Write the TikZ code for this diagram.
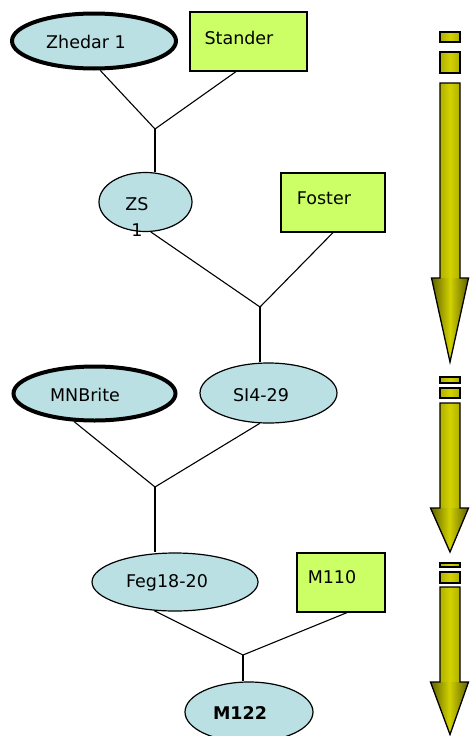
\documentclass[tikz,border=0pt]{standalone}
\usepackage{fontspec}
\setmainfont{DejaVu Sans}
\usetikzlibrary{shapes.geometric}
\definecolor{ellfill}{HTML}{BAE0E3}
\definecolor{boxfill}{HTML}{CCFF66}
\definecolor{arrmid}{HTML}{D2D200}
\definecolor{arredge}{HTML}{B0B000}
\definecolor{headedge}{HTML}{606000}
\begin{document}
\begin{tikzpicture}[x=1pt,y=-1pt,
  cross/.style={ellipse,draw,fill=ellfill,line width=1.2pt,inner sep=0pt},
  parent/.style={cross,line width=4pt},
  boxnode/.style={rectangle,draw,fill=boxfill,line width=1.2pt,inner sep=0pt},
  lbl/.style={font=\fontsize{17.5}{20}\selectfont,inner sep=0pt},
  link/.style={line width=1.1pt},
  shaftfill/.style={left color=arredge,right color=arredge,middle color=arrmid},
  headfill/.style={left color=headedge,right color=headedge,middle color=arrmid},
  arrline/.style={draw=black,line width=1.3pt,line join=miter}]
\useasboundingbox (0,0) rectangle (469,736);

% --- nodes ---
\node[parent,minimum width=164pt,minimum height=55pt] (zhedar) at (94,41) {};
\node[lbl] (zhedarT) at (86,42) {Zhedar 1};
\node[boxnode,minimum width=117pt,minimum height=59pt] (stander) at (248.5,41.5) {};
\node[lbl] (standerT) at (239,38) {Stander};

\node[cross,minimum width=93pt,minimum height=59pt] (zs) at (145.5,202) {};
\node[lbl] (zsT) at (137,204) {ZS};
\node[lbl] (zsT2) at (137,230) {1};
\node[boxnode,minimum width=104pt,minimum height=59pt] (foster) at (333,202.5) {};
\node[lbl] (fosterT) at (324,198) {Foster};

\node[parent,minimum width=162pt,minimum height=54pt] (mnbrite) at (94.5,393.5) {};
\node[lbl] (mnbriteT) at (85,395) {MNBrite};
\node[cross,minimum width=137pt,minimum height=60pt] (si) at (268.5,393) {};
\node[lbl] (siT) at (261,395) {SI4-29};

\node[cross,minimum width=166pt,minimum height=58pt] (feg) at (175,582) {};
\node[lbl] (fegT) at (167,583) {Feg18-20};
\node[boxnode,minimum width=88pt,minimum height=59pt] (m110) at (341,582.5) {};
\node[lbl] (m110T) at (332,577) {M110};

\node[cross,minimum width=128pt,minimum height=60pt] (m122) at (249,712) {};
\node[lbl,font=\fontsize{17.5}{20}\selectfont\bfseries] (m122T) at (240,713) {M122};

% --- junctions and links ---
\coordinate (j1) at (155,129);
\coordinate (j2) at (260,307);
\coordinate (j3) at (155,487);
\coordinate (j4) at (243,655);

\draw[link] (zhedar.-78) -- (j1) -- ([xshift=-12.5pt]stander.south);
\draw[link] (j1) -- (zs.north -| j1);
\draw[link] (zs.-80) -- (j2) -- (foster.south);
\draw[link] (j2) -- (si.north -| j2);
\draw[link] (mnbrite.-126) -- (j3) -- (si.-106);
\draw[link] (j3) -- (feg.north -| j3);
\draw[link] (feg.-126) -- (j4) -- ([xshift=6pt]m110.south);
\draw[link] (j4) -- (m122.north -| j4);

% --- big arrows on the right ---
% arrow 1
\path[shaftfill,arrline] (440,32) rectangle (460,42);
\path[shaftfill,arrline] (440,52) rectangle (460,73);
\fill[shaftfill] (440,83) rectangle (460,279);
\fill[headfill] (431.5,278) -- (468.5,278) -- (450,362) -- cycle;
\draw[arrline] (440,83) -- (460,83) -- (460,278) -- (468.5,278) -- (450,362) -- (431.5,278) -- (440,278) -- cycle;
% arrow 2
\path[shaftfill,arrline] (440,377) rectangle (460,383);
\path[shaftfill,arrline] (440,388) rectangle (460,398);
\fill[shaftfill] (440,403) rectangle (460,509);
\fill[headfill] (430.5,508) -- (468.5,508) -- (450,552) -- cycle;
\draw[arrline] (440,403) -- (460,403) -- (460,508) -- (468.5,508) -- (450,552) -- (430.5,508) -- (440,508) -- cycle;
% arrow 3
\path[shaftfill,arrline] (440,563) rectangle (460,567);
\path[shaftfill,arrline] (440,572) rectangle (460,583);
\fill[shaftfill] (440,587) rectangle (460,683);
\fill[headfill] (430.5,682) -- (468.5,682) -- (450,734.5) -- cycle;
\draw[arrline] (440,587) -- (460,587) -- (460,682) -- (468.5,682) -- (450,734.5) -- (430.5,682) -- (440,682) -- cycle;
\end{tikzpicture}
\end{document}
